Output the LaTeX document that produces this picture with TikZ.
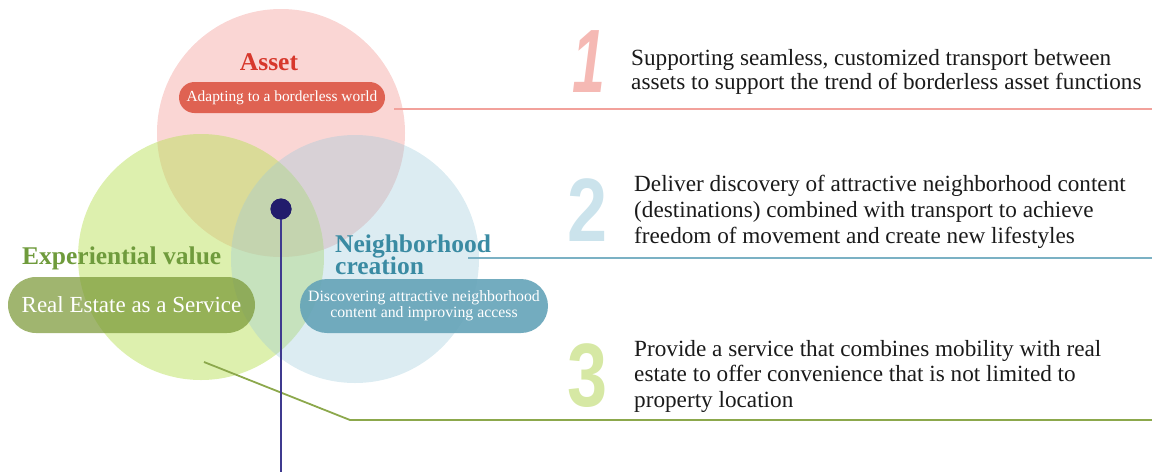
\documentclass[tikz,border=0pt]{standalone}
\usepackage{fontspec}
\setmainfont{Liberation Serif}
\newfontfamily\numfont{Liberation Sans}
\definecolor{assetbase}{RGB}{240,138,133}
\definecolor{expbase}{RGB}{187,225,93}
\definecolor{nbhbase}{RGB}{155,201,218}
\definecolor{assettitle}{RGB}{215,56,44}
\definecolor{assetpill}{RGB}{223,98,82}
\definecolor{exptitle}{RGB}{111,155,60}
\definecolor{exppill}{RGB}{120,150,50}
\definecolor{nbhtitle}{RGB}{58,139,163}
\definecolor{nbhpill}{RGB}{100,163,184}
\definecolor{redline}{RGB}{242,161,155}
\definecolor{blueline}{RGB}{123,177,196}
\definecolor{greenline}{RGB}{140,168,76}
\definecolor{navy}{RGB}{34,28,108}
\definecolor{navyline}{RGB}{63,58,143}
\definecolor{numone}{RGB}{245,185,180}
\definecolor{numtwo}{RGB}{203,227,236}
\definecolor{numthree}{RGB}{214,232,164}
\definecolor{bodytext}{RGB}{26,26,26}
\begin{document}
\begin{tikzpicture}[x=1pt,y=-1pt,
  heading/.style={font=\fontsize{25.5}{25}\selectfont\bfseries, inner sep=0pt},
  pill/.style={text=white, inner sep=0pt, align=center},
  bignum/.style={font=\fontsize{90}{90}\selectfont\numfont\bfseries, inner sep=0pt, xscale=0.8},
  bodyblock/.style={text=bodytext, align=left, inner sep=0pt, anchor=north west},
  leader/.style={line width=1.8pt}
]
\useasboundingbox (0,0) rectangle (1152,472);

% three overlapping value circles
\fill[assetbase, opacity=0.35] (281,133) circle[radius=124pt];
\fill[expbase, opacity=0.5] (201,257) circle[radius=123pt];
\fill[nbhbase, opacity=0.35] (355,259) circle[radius=124pt];

% circle headings
\node[heading, text=assettitle, anchor=base] (assetT) at (269,70) {Asset};
\node[heading, text=exptitle, anchor=base west] (expT) at (22,264) {Experiential value};
\node[heading, text=nbhtitle, anchor=north west, align=left] (nbhT) at (335,235)
  {Neighborhood\\[-3pt]creation};

% label pills
\node[pill, fill=assetpill, minimum width=206pt, minimum height=31pt, rounded corners=15.5pt,
  font=\fontsize{15.4}{16}\selectfont] (assetP) at (282,97.5) {Adapting to a borderless world};
\node[pill, fill=exppill, fill opacity=0.7, text opacity=1, minimum width=247pt, minimum height=56pt,
  rounded corners=28pt, font=\fontsize{23}{24}\selectfont] (expP) at (131.5,305) {Real Estate as a Service};
\node[pill, fill=nbhpill, fill opacity=0.9, text opacity=1, minimum width=248pt, minimum height=54pt,
  rounded corners=27pt, font=\fontsize{15.8}{16}\selectfont] (nbhP) at (424,306)
  {Discovering attractive neighborhood\\content and improving access};

% leader lines
\coordinate (redS) at (394,109);
\coordinate (redE) at (1152,109);
\coordinate (blueS) at (468,258);
\coordinate (blueE) at (1152,258);
\coordinate (greenS) at (204,362);
\coordinate (greenK) at (350,420);
\coordinate (greenE) at (1152,420);
\draw[leader, redline] (redS) -- (redE);
\draw[leader, blueline] (blueS) -- (blueE);
\draw[leader, greenline] (greenS) -- (greenK) -- (greenE);

% centre marker with drop line
\node[circle, fill=navy, minimum size=21pt, inner sep=0pt] (hub) at (281,209) {};
\coordinate (hubE) at (281,472);
\draw[leader, navyline] (hub.center) -- (hubE);
\node[circle, fill=navy, minimum size=21pt, inner sep=0pt] at (hub.center) {};

% numbered statements
\node[bignum, text=numone, xscale=0.82, font=\fontsize{90}{90}\selectfont\numfont\bfseries\itshape] (n1) at (589,62) {1};
\node[bignum, text=numtwo] (n2) at (588,210) {2};
\node[bignum, text=numthree] (n3) at (588,376) {3};

\node[bodyblock, font=\fontsize{23.2}{24}\selectfont] (t1) at (631,49)
  {Supporting seamless, customized transport between\\assets to support the trend of borderless asset functions};
\node[bodyblock, font=\fontsize{23.2}{26}\selectfont] (t2) at (634,175)
  {Deliver discovery of attractive neighborhood content\\(destinations) combined with transport to achieve\\freedom of movement and create new lifestyles};
\node[bodyblock, font=\fontsize{23.2}{25.5}\selectfont] (t3) at (634,340)
  {Provide a service that combines mobility with real\\estate to offer convenience that is not limited to\\property location};
\end{tikzpicture}
\end{document}
